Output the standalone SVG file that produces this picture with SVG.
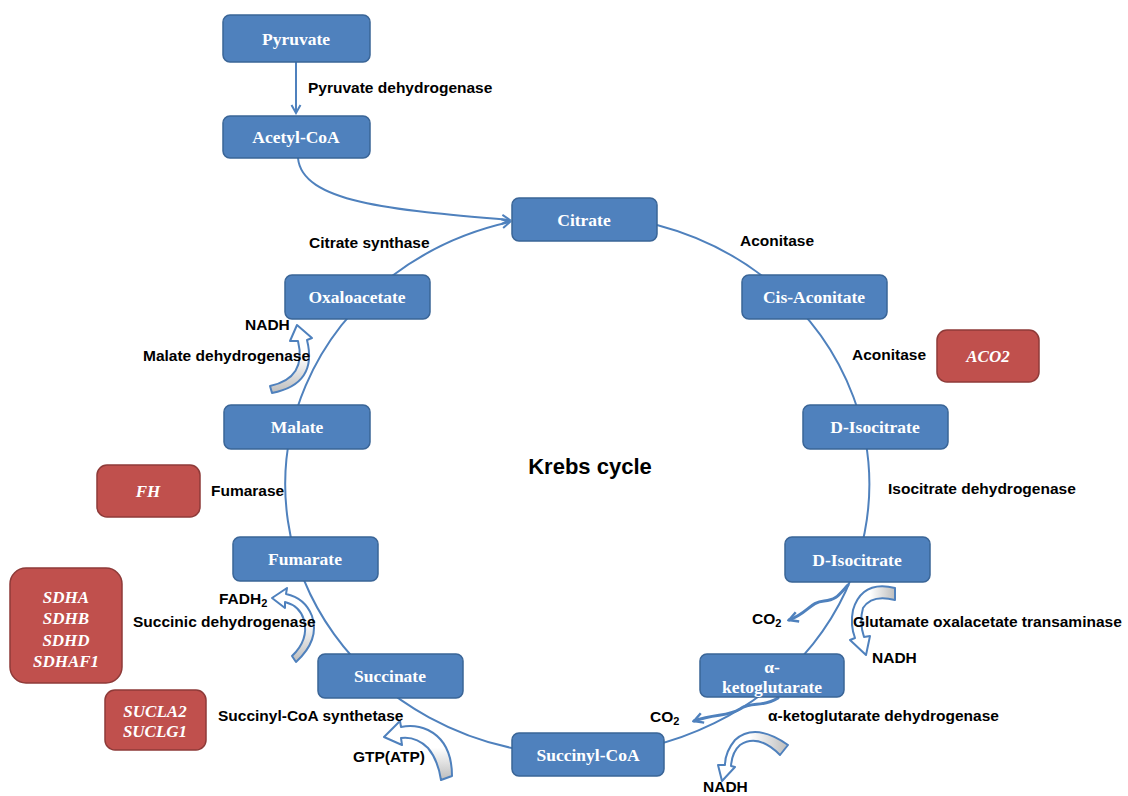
<svg xmlns="http://www.w3.org/2000/svg" width="1128" height="796" viewBox="0 0 1128 796">
<style>
.n rect{fill:#4f81bd;stroke:#3a6597;stroke-width:1.5}
.n text{fill:#fff;font-family:"Liberation Serif",serif;font-weight:bold;font-size:17.5px;text-anchor:middle}
.g rect{fill:#c0504d;stroke:#8e3a38;stroke-width:1.5}
.g text{fill:#fff;font-family:"Liberation Serif",serif;font-weight:bold;font-style:italic;font-size:17px;text-anchor:middle}
.l{fill:#000;font-family:"Liberation Sans",Arial,sans-serif;font-weight:bold;font-size:15.5px}
.ln{fill:none;stroke:#4f81bd;stroke-width:2}
.wv{fill:none;stroke:#4f81bd;stroke-width:3;stroke-linecap:round}
.blk{stroke:#4f81bd;stroke-width:2;stroke-linejoin:round}
</style>
<defs>
<marker id="v" viewBox="0 0 12 12" refX="10" refY="6" markerWidth="12" markerHeight="12" markerUnits="userSpaceOnUse" orient="auto">
<path d="M2,1.5 L10,6 L2,10.5" fill="none" stroke="#4f81bd" stroke-width="2"/>
</marker>
<marker id="vw" viewBox="0 0 14 14" refX="12" refY="7" markerWidth="14" markerHeight="14" markerUnits="userSpaceOnUse" orient="auto">
<path d="M3,2 L12,7 L3,12" fill="none" stroke="#4f81bd" stroke-width="2.5"/>
</marker>
<linearGradient id="gv" x1="0" y1="0" x2="0" y2="1"><stop offset="0.45" stop-color="#fff"/><stop offset="1" stop-color="#bdbdbd"/></linearGradient>
<linearGradient id="gh" x1="0" y1="0" x2="1" y2="0"><stop offset="0.45" stop-color="#fff"/><stop offset="1" stop-color="#bdbdbd"/></linearGradient>
</defs>

<g id="connectors">
<path class="ln" d="M296,62 L296,113" marker-end="url(#v)"/>
<path class="ln" d="M298,158 C302,202 390,210 510,220" marker-end="url(#v)"/>
<path class="ln" d="M657,225 A292,270 0 1 1 510,222" marker-end="url(#v)"/>
<path class="wv" d="M848,585 C838,596 836,600 824,601 C810,602 808,613 789,620" marker-end="url(#vw)"/>
<path class="wv" d="M778,698 C762,708 752,701 740,709 C727,717 716,713 694,721" marker-end="url(#vw)"/>
<path class="blk" fill="url(#gv)" d="M272,393 Q318,384 307,340 L312,338 L297,325 L290,341 L298,341 Q307,378 270,386 Z"/>
<path class="blk" fill="url(#gv)" d="M296,662 Q320,640 312,616 Q305,598 286,594 L287,588 L272,598 L285,608 L285,602 Q300,606 304,620 Q309,640 292,656 Z"/>
<path class="blk" fill="url(#gv)" d="M452,776 Q452,742 428,730 Q415,724 401,727 L400,721 L384,737 L402,745 L401,738 Q416,736 428,748 Q438,760 441,780 Z"/>
<path class="blk" fill="url(#gh)" d="M895,588 Q862,580 853,610 Q850,625 855,638 L850,640 L866,655 L870,636 L864,637 Q859,622 863,608 Q872,594 895,600 Z"/>
<path class="blk" fill="url(#gh)" d="M788,745 Q755,722 735,740 Q725,752 725,765 L718,765 L722,781 L735,767 L731,766 Q732,752 740,745 Q758,733 780,755 Z"/>
</g>

<g id="pyruvate" class="n"><rect x="223" y="15" width="147" height="47" rx="7"/><text x="296" y="45">Pyruvate</text></g>
<g id="acetylcoa" class="n"><rect x="223" y="116" width="147" height="42" rx="7"/><text x="296" y="143">Acetyl-CoA</text></g>
<g id="citrate" class="n"><rect x="512" y="198" width="145" height="43" rx="7"/><text x="584" y="226">Citrate</text></g>
<g id="cisaconitate" class="n"><rect x="742" y="275" width="145" height="44" rx="7"/><text x="814" y="303">Cis-Aconitate</text></g>
<g id="disocitrate1" class="n"><rect x="803" y="405" width="145" height="44" rx="7"/><text x="875" y="433">D-Isocitrate</text></g>
<g id="disocitrate2" class="n"><rect x="785" y="537" width="145" height="45" rx="7"/><text x="857" y="566">D-Isocitrate</text></g>
<g id="ketoglutarate" class="n"><rect x="700" y="654" width="144" height="43" rx="7"/><text x="772" y="673">α-</text><text x="772" y="693">ketoglutarate</text></g>
<g id="succinylcoa" class="n"><rect x="512" y="733" width="152" height="43" rx="7"/><text x="588" y="761">Succinyl-CoA</text></g>
<g id="succinate" class="n"><rect x="318" y="654" width="145" height="44" rx="7"/><text x="390" y="682">Succinate</text></g>
<g id="fumarate" class="n"><rect x="233" y="537" width="145" height="44" rx="7"/><text x="305" y="565">Fumarate</text></g>
<g id="malate" class="n"><rect x="224" y="405" width="146" height="44" rx="7"/><text x="297" y="433">Malate</text></g>
<g id="oxaloacetate" class="n"><rect x="285" y="275" width="145" height="44" rx="7"/><text x="357" y="303">Oxaloacetate</text></g>

<g id="aco2" class="g"><rect x="937" y="330" width="102" height="52" rx="10"/><text x="988" y="362">ACO2</text></g>
<g id="fh" class="g"><rect x="97" y="465" width="103" height="52" rx="10"/><text x="148" y="497">FH</text></g>
<g id="sdh" class="g"><rect x="10" y="568" width="112" height="115" rx="16"/><text x="66" y="603">SDHA</text><text x="66" y="624">SDHB</text><text x="66" y="646">SDHD</text><text x="66" y="667">SDHAF1</text></g>
<g id="sucl" class="g"><rect x="105" y="690" width="101" height="60" rx="10"/><text x="155" y="717">SUCLA2</text><text x="155" y="737">SUCLG1</text></g>

<g id="labels">
<text class="l" x="308" y="93">Pyruvate dehydrogenase</text>
<text class="l" x="309" y="248">Citrate synthase</text>
<text class="l" x="740" y="246">Aconitase</text>
<text class="l" x="852" y="360">Aconitase</text>
<text class="l" x="888" y="494">Isocitrate dehydrogenase</text>
<text class="l" x="853" y="627">Glutamate oxalacetate transaminase</text>
<text class="l" x="872" y="663">NADH</text>
<text class="l" x="752" y="624">CO<tspan font-size="11" dy="3">2</tspan></text>
<text class="l" x="768" y="721">α-ketoglutarate dehydrogenase</text>
<text class="l" x="650" y="722">CO<tspan font-size="11" dy="3">2</tspan></text>
<text class="l" x="703" y="792">NADH</text>
<text class="l" x="353" y="762">GTP(ATP)</text>
<text class="l" x="218" y="721">Succinyl-CoA synthetase</text>
<text class="l" x="133" y="627">Succinic dehydrogenase</text>
<text class="l" x="219" y="604">FADH<tspan font-size="11" dy="3">2</tspan></text>
<text class="l" x="211" y="496">Fumarase</text>
<text class="l" x="143" y="361">Malate dehydrogenase</text>
<text class="l" x="245" y="330">NADH</text>
<text x="590" y="474" style="font-family:'Liberation Sans',Arial,sans-serif;font-weight:bold;font-size:22px;text-anchor:middle">Krebs cycle</text>
</g>
</svg>
